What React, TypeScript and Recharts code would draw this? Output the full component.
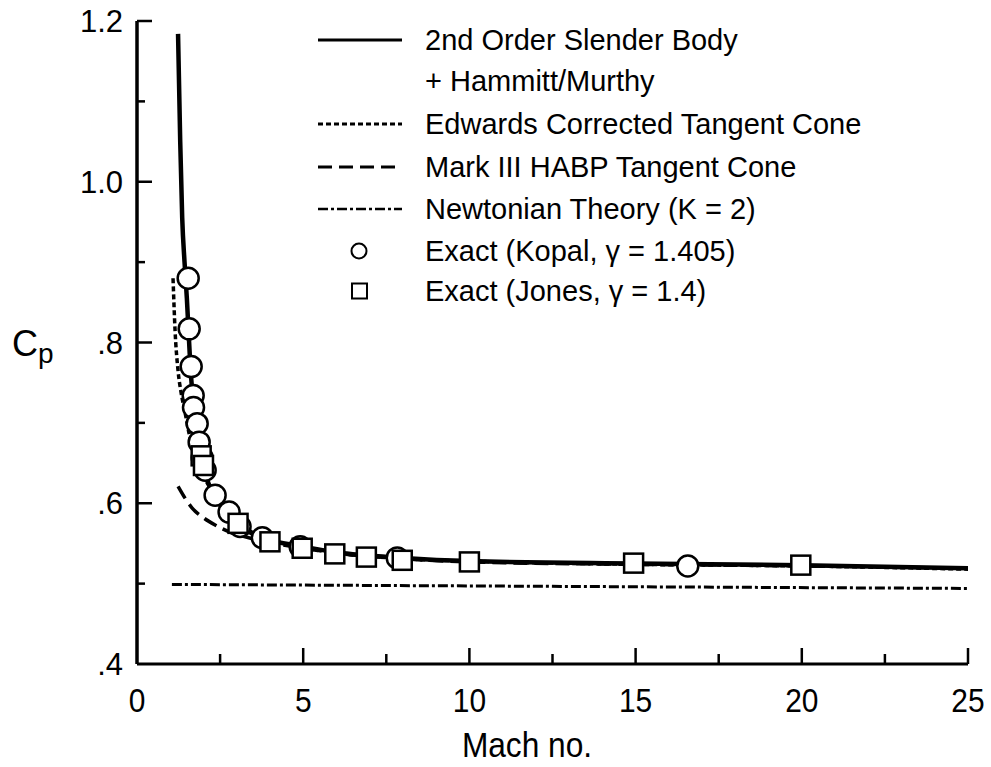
import { ComposedChart, Line, Scatter, XAxis, YAxis } from "recharts";

// 2nd order slender body + Hammitt/Murthy (solid)
const slenderMach = [1.235, 1.3, 1.36, 1.43, 1.5, 1.55, 1.6, 1.672, 1.777, 1.852, 1.943, 2.033, 2.29, 2.74, 3.1, 3.8, 5, 6, 8, 10, 15, 20, 25];
const slenderCp = [1.184, 1.05, 0.955, 0.9, 0.855, 0.815, 0.775, 0.734, 0.699, 0.676, 0.657, 0.641, 0.61, 0.589, 0.572, 0.557, 0.546, 0.539, 0.532, 0.528, 0.525, 0.523, 0.519];

// Edwards corrected tangent cone (dotted)
const edwardsMach = [1.084, 1.145, 1.235, 1.325, 1.446, 1.566, 1.747, 1.99, 2.35, 2.8, 3.5, 5, 8, 10, 15, 20, 25];
const edwardsCp = [0.88, 0.815, 0.765, 0.738, 0.713, 0.687, 0.66, 0.635, 0.61, 0.587, 0.563, 0.545, 0.531, 0.528, 0.524, 0.522, 0.518];

// Mark III HABP tangent cone (dashed)
const habpMach = [1.235, 1.45, 1.66, 2.0, 2.35, 2.86, 3.2, 4, 5, 6, 8, 10, 15, 20, 25];
const habpCp = [0.621, 0.606, 0.594, 0.582, 0.573, 0.563, 0.559, 0.551, 0.544, 0.538, 0.531, 0.527, 0.524, 0.522, 0.519];

// Newtonian theory K = 2 (dash-dot)
const newtonMach = [1.05, 25];
const newtonCp = [0.499, 0.494];

// Exact (Kopal, gamma = 1.405) circles
const kopalMach = [1.54, 1.57, 1.63, 1.69, 1.7, 1.81, 1.87, 1.96, 2.05, 2.35, 2.77, 3.1, 3.77, 4.91, 7.83, 16.57];
const kopalCp = [0.88, 0.817, 0.77, 0.734, 0.719, 0.699, 0.676, 0.657, 0.641, 0.61, 0.589, 0.571, 0.557, 0.546, 0.532, 0.522];

// Exact (Jones, gamma = 1.4) squares
const jonesMach = [1.93, 2.0, 3.04, 4.0, 4.97, 5.95, 6.9, 7.98, 10, 14.94, 19.97];
const jonesCp = [0.659, 0.647, 0.575, 0.552, 0.544, 0.537, 0.533, 0.529, 0.527, 0.5255, 0.523];

const xMajor = [0, 5, 10, 15, 20, 25];
const xMinor = [2.5, 7.5, 12.5, 17.5, 22.5];
const yMajor = [0.4, 0.6, 0.8, 1.0, 1.2];
const yMinor = [0.5, 0.7, 0.9, 1.1];
const yLabels = [".4", ".6", ".8", "1.0", "1.2"];

const legendLabels = [
  "2nd Order Slender Body",
  "+ Hammitt/Murthy",
  "Edwards Corrected Tangent Cone",
  "Mark III HABP Tangent Cone",
  "Newtonian Theory (K = 2)",
  "Exact (Kopal, \u03b3 = 1.405)",
  "Exact (Jones, \u03b3 = 1.4)",
];

const zip = (ms: number[], cps: number[]) => ms.map((m, i) => ({ m, cp: cps[i] }));

const FONT = "'Liberation Sans', Arial, Helvetica, sans-serif";

const XTick = (props: any) => {
  const { x, y, payload } = props;
  const v = payload.value;
  const major = xMajor.includes(v);
  return (
    <g>
      {v !== 0 && <line x1={x} x2={x} y1={y} y2={y - (major ? 16 : 10)} stroke="#000" strokeWidth={2.5} />}
      {major && (
        <text transform={`translate(${x},${y + 48}) scale(0.88,1)`} textAnchor="middle" fontSize={34} fontFamily={FONT} fill="#000">
          {v}
        </text>
      )}
    </g>
  );
};

const YTick = (props: any) => {
  const { x, y, payload } = props;
  const v = payload.value;
  const idx = yMajor.findIndex((t) => Math.abs(t - v) < 1e-6);
  const major = idx >= 0;
  return (
    <g>
      {Math.abs(v - 0.4) > 1e-6 && <line x1={x} x2={x + (major ? 15 : 8)} y1={y} y2={y} stroke="#000" strokeWidth={2.5} />}
      {major && (
        <text x={x - 14} y={y + 11} textAnchor="end" fontSize={31} fontFamily={FONT} fill="#000">
          {yLabels[idx]}
        </text>
      )}
    </g>
  );
};

const Circle = (p: any) => <circle cx={p.cx} cy={p.cy} r={10.5} fill="#fff" stroke="#000" strokeWidth={2.5} />;
const Square = (p: any) => <rect x={p.cx - 9.5} y={p.cy - 9.5} width={19} height={19} fill="#fff" stroke="#000" strokeWidth={2.5} />;

const rows = [40, 81, 124, 167, 209, 251, 291];

export default function App() {
  return (
    <div style={{ position: "absolute", left: 0, top: 0, width: 991, height: 767, background: "#fff" }}>
      <ComposedChart width={991} height={767} margin={{ top: 21, right: 23, left: 0, bottom: 0 }}>
        <XAxis
          type="number"
          dataKey="m"
          domain={[0, 25]}
          ticks={[...xMajor, ...xMinor].sort((a, b) => a - b)}
          interval={0}
          allowDataOverflow
          height={103}
          tickSize={0}
          tickMargin={0}
          tickLine={false}
          tick={<XTick />}
          axisLine={{ stroke: "#000", strokeWidth: 3 }}
        />
        <YAxis
          type="number"
          dataKey="cp"
          domain={[0.4, 1.2]}
          ticks={[...yMajor, ...yMinor].sort((a, b) => a - b)}
          interval={0}
          allowDataOverflow
          width={137}
          tickSize={0}
          tickMargin={0}
          tickLine={false}
          tick={<YTick />}
          axisLine={{ stroke: "#000", strokeWidth: 3.5 }}
        />
        <Line data={zip(newtonMach, newtonCp)} dataKey="cp" type="linear" stroke="#000" strokeWidth={3} strokeDasharray="10 3 3 3" dot={false} activeDot={false} isAnimationActive={false} />
        <Line data={zip(habpMach, habpCp)} dataKey="cp" type="monotone" stroke="#000" strokeWidth={3.5} strokeDasharray="14 7" dot={false} activeDot={false} isAnimationActive={false} />
        <Line data={zip(edwardsMach, edwardsCp)} dataKey="cp" type="monotone" stroke="#000" strokeWidth={3.5} strokeDasharray="5 3" dot={false} activeDot={false} isAnimationActive={false} />
        <Line data={zip(slenderMach, slenderCp)} dataKey="cp" type="monotone" stroke="#000" strokeWidth={4.5} dot={false} activeDot={false} isAnimationActive={false} />
        <Scatter data={zip(kopalMach, kopalCp)} dataKey="cp" shape={Circle} isAnimationActive={false} />
        <Scatter data={zip(jonesMach, jonesCp)} dataKey="cp" shape={Square} isAnimationActive={false} />
      </ComposedChart>
      <svg width={991} height={767} style={{ position: "absolute", left: 0, top: 0, pointerEvents: "none" }}>
        <g fontFamily={FONT} fontSize={29} fill="#000">
          <line x1={318} x2={402} y1={rows[0]} y2={rows[0]} stroke="#000" strokeWidth={3} />
          <line x1={318} x2={402} y1={rows[2]} y2={rows[2]} stroke="#000" strokeWidth={3} strokeDasharray="5 3" />
          <line x1={318} x2={402} y1={rows[3]} y2={rows[3]} stroke="#000" strokeWidth={3} strokeDasharray="14 7" />
          <line x1={318} x2={402} y1={rows[4]} y2={rows[4]} stroke="#000" strokeWidth={2.5} strokeDasharray="10 3 3 3" />
          <circle cx={359} cy={rows[5]} r={7.5} fill="#fff" stroke="#000" strokeWidth={2} />
          <rect x={352} y={rows[6] - 7.5} width={15} height={15} fill="#fff" stroke="#000" strokeWidth={2} />
          {legendLabels.map((t, i) => (
            <text key={i} x={425} y={rows[i] + 10}>
              {t}
            </text>
          ))}
        </g>
        <text transform="translate(527,757) scale(0.88,1)" textAnchor="middle" fontFamily={FONT} fontSize={36} fill="#000">
          Mach no.
        </text>
        <text x={12} y={356} fontFamily={FONT} fontSize={36} fill="#000">
          C<tspan fontSize={28} dy={7}>p</tspan>
        </text>
      </svg>
    </div>
  );
}
